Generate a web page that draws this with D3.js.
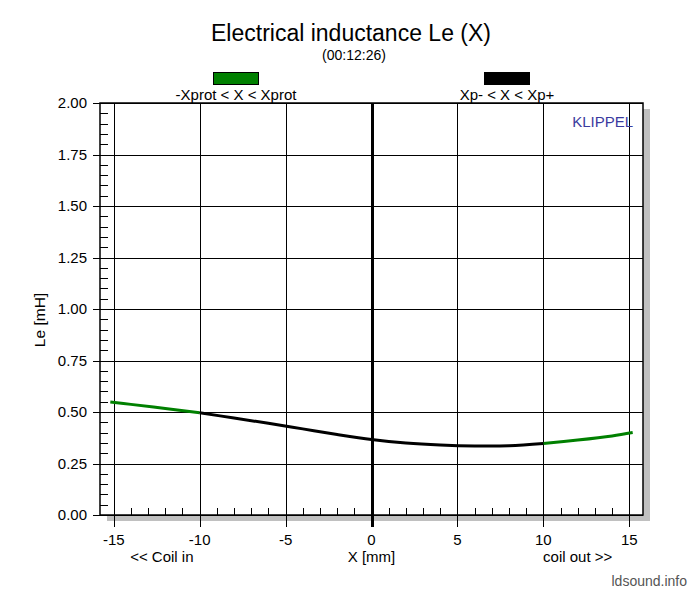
<!DOCTYPE html>
<html>
<head>
<meta charset="utf-8">
<script src="https://cdn.jsdelivr.net/npm/d3@7"></script>
<style>
  body { margin: 0; background: #fff; }
  svg { display: block; font-family: "Liberation Sans", Arial, sans-serif; }
</style>
</head>
<body>
<div id="chart"></div>
<script>
// Data
const X_MM = [-15.2, -14, -12, -10, -8, -6, -4, -2, 0, 2, 4, 6, 8, 10, 12, 14, 15.2];
const LE_MH = [0.548, 0.537, 0.517, 0.496, 0.471, 0.445, 0.418, 0.391, 0.367, 0.350, 0.340, 0.335, 0.336, 0.347, 0.364, 0.384, 0.400];
const XPROT = [-10, 10];
const X_TICKS = [-15, -10, -5, 0, 5, 10, 15];
const Y_TICKS = [0, 0.25, 0.5, 0.75, 1.0, 1.25, 1.5, 1.75, 2.0];
const LEGEND = ["-Xprot < X < Xprot", "Xp- < X < Xp+"];

const width = 692, height = 590;
const plotLeft = 100, plotTop = 103, plotRight = 643, plotBottom = 515;

let svg = d3.select('#chart').append('svg')
    .attr('width', width)
    .attr('height', height);

let x = d3.scaleLinear().domain([-15.8, 15.8]).range([plotLeft, plotRight]);
let y = d3.scaleLinear().domain([0, 2]).range([plotBottom, plotTop]);

// title
svg.append('text').attr('x', 351).attr('y', 41).attr('text-anchor', 'middle')
    .attr('font-size', 23).text('Electrical inductance Le (X)');
svg.append('text').attr('x', 354).attr('y', 60).attr('text-anchor', 'middle')
    .attr('font-size', 14).text('(00:12:26)');

// legend
let legendColors = ['#008000', '#000000'];
let legendX = [236, 507];
LEGEND.forEach((d, i) => {
    svg.append('rect').attr('x', legendX[i] - 22.5).attr('y', 72.5)
        .attr('width', 45).attr('height', 12)
        .attr('fill', legendColors[i]).attr('stroke', '#000').attr('stroke-width', 1);
    svg.append('text').attr('x', legendX[i]).attr('y', 100).attr('text-anchor', 'middle')
        .attr('font-size', 15).text(d);
});

// shadow + plot background
svg.append('rect').attr('x', plotLeft + 7).attr('y', plotTop + 6)
    .attr('width', plotRight - plotLeft).attr('height', plotBottom - plotTop).attr('fill', '#c0c0c0');
svg.append('rect').attr('x', plotLeft).attr('y', plotTop)
    .attr('width', plotRight - plotLeft).attr('height', plotBottom - plotTop).attr('fill', '#fff');

let grid = svg.append('g').attr('stroke', '#000').attr('stroke-width', 1).attr('shape-rendering', 'crispEdges');

// minor ticks
d3.range(0, 2.0001, 0.05).forEach(v => {
    let py = Math.round(y(v)) + 0.5;
    grid.append('line').attr('x1', plotLeft).attr('x2', plotLeft + 8).attr('y1', py).attr('y2', py);
});
d3.range(-15, 15.5, 1).forEach(v => {
    let px = Math.round(x(v)) + 0.5;
    grid.append('line').attr('x1', px).attr('x2', px).attr('y1', plotBottom).attr('y2', plotBottom - 7);
});

// major grid
Y_TICKS.forEach(v => {
    let py = Math.round(y(v)) + 0.5;
    grid.append('line').attr('x1', plotLeft - 7).attr('x2', plotRight).attr('y1', py).attr('y2', py);
});
X_TICKS.forEach(v => {
    let px = Math.round(x(v)) + 0.5;
    grid.append('line').attr('x1', px).attr('x2', px).attr('y1', plotTop).attr('y2', plotBottom + 12)
        .attr('stroke-width', v === 0 ? 3 : 1);
});

// frame
svg.append('rect').attr('x', plotLeft).attr('y', plotTop)
    .attr('width', plotRight - plotLeft).attr('height', plotBottom - plotTop)
    .attr('fill', 'none').attr('stroke', '#000').attr('stroke-width', 1.5);

// tick labels
svg.append('g').selectAll('text').data(Y_TICKS).enter().append('text')
    .attr('x', 87).attr('y', d => y(d) + 5).attr('text-anchor', 'end')
    .attr('font-size', 15).text(d => d3.format('.2f')(d));
svg.append('g').selectAll('text').data(X_TICKS).enter().append('text')
    .attr('x', d => x(d)).attr('y', 545).attr('text-anchor', 'middle')
    .attr('font-size', 15).text(d => d);

svg.append('text').attr('x', x(-12.2)).attr('y', 562).attr('text-anchor', 'middle')
    .attr('font-size', 15).text('<< Coil in');
svg.append('text').attr('x', x(0)).attr('y', 562).attr('text-anchor', 'middle')
    .attr('font-size', 15).text('X [mm]');
svg.append('text').attr('x', x(12)).attr('y', 562).attr('text-anchor', 'middle')
    .attr('font-size', 15).text('coil out >>');
svg.append('text').attr('transform', 'translate(45,320) rotate(-90)')
    .attr('text-anchor', 'middle').attr('font-size', 15.5).text('Le [mH]');

svg.append('text').attr('x', 633).attr('y', 127).attr('text-anchor', 'end')
    .attr('font-size', 15).attr('fill', '#3a3a9e').text('KLIPPEL');
svg.append('text').attr('x', 687).attr('y', 586).attr('text-anchor', 'end')
    .attr('font-size', 14).attr('fill', '#555').text('ldsound.info');

// curve
let pts = X_MM.map((d, i) => [d, LE_MH[i]]);
let line = d3.line().x(d => x(d[0])).y(d => y(d[1])).curve(d3.curveCatmullRom.alpha(0.5));
let segs = [
    { data: pts.filter(d => d[0] <= XPROT[0]), color: '#008000' },
    { data: pts.filter(d => d[0] >= XPROT[1]), color: '#008000' },
    { data: pts.filter(d => d[0] >= XPROT[0] && d[0] <= XPROT[1]), color: '#000' }
];
svg.append('g').selectAll('path').data(segs).enter().append('path')
    .attr('d', d => line(d.data))
    .attr('fill', 'none')
    .attr('stroke', d => d.color)
    .attr('stroke-width', 3);
</script>
</body>
</html>
